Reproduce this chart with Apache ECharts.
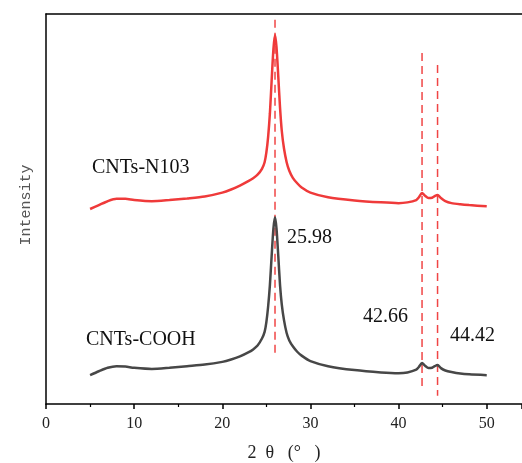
<!DOCTYPE html>
<html>
<head>
<meta charset="utf-8">
<script src="https://cdn.jsdelivr.net/npm/echarts@6/dist/echarts.min.js"></script>
<style>
  html, body { margin: 0; padding: 0; background: #fff; }
  #chart { width: 522px; height: 463px; }
</style>
</head>
<body>
<div id="chart"></div>
<script>
// 2θ 取样点
var twoTheta = [5, 6, 7, 8, 9, 10, 12, 14, 16, 18, 20, 21, 22, 23, 23.5, 24, 24.5, 24.8, 25.0, 25.2, 25.4,
  25.6, 25.8, 25.98, 26.15, 26.35, 26.55, 26.75, 27.0, 27.3, 27.6, 28, 28.5, 29, 30, 32, 35, 38, 40, 41, 42,
  42.3, 42.66, 43.0, 43.4, 43.8, 44.1, 44.42, 44.8, 45.3, 46, 47, 48, 50]
// CNTs-N103 (上面红线，已整体上移)
var n103 = [50.0, 51.0, 52.0, 52.6, 52.6, 52.3, 52.0, 52.3, 52.7, 53.2, 54.2, 55.0, 56.0, 57.2, 57.9, 58.8, 60.3, 62.0, 64.5, 68.5, 74.5,
  83.0, 91.0, 94.6, 91.5, 84.0, 76.0, 70.0, 65.5, 62.0, 59.8, 58.0, 56.6, 55.5, 54.2, 53.0, 52.2, 51.7, 51.5, 51.7, 52.3,
  53.0, 54.1, 53.4, 52.8, 52.9, 53.3, 53.6, 52.8, 52.0, 51.5, 51.2, 51.0, 50.7]
// CNTs-COOH (下面灰线)
var cooh = [7.4, 8.4, 9.3, 9.7, 9.6, 9.3, 9.0, 9.3, 9.7, 10.1, 10.8, 11.4, 12.2, 13.3, 14.0, 15.0, 16.8, 18.5, 21.0, 25.0, 30.5,
  38.0, 45.0, 47.9, 45.0, 38.0, 30.5, 25.5, 21.5, 18.2, 16.3, 14.8, 13.4, 12.4, 11.0, 9.7, 8.7, 8.1, 7.9, 8.1, 8.8,
  9.5, 10.5, 9.8, 9.2, 9.3, 9.7, 10.0, 9.2, 8.6, 8.2, 7.8, 7.6, 7.4]
// 虚线标注的峰位
var peakPos = [25.98, 42.66, 44.42]
var dashTop = [98.5, 90.0, 86.9]
var dashBottom = [12.6, 4.6, 2.1]
var xTicks = [0, 10, 20, 30, 40, 50]

function pairs(xs, ys) {
  return xs.map(function (x, i) { return [x, ys[i]] })
}

var chart = echarts.init(document.getElementById('chart'))

var dashSeries = peakPos.map(function (p, i) {
  return {
    type: 'line',
    data: [[p, dashTop[i]], [p, dashBottom[i]]],
    symbol: 'none',
    silent: true,
    z: 1,
    lineStyle: { color: '#f04545', width: 1.5, type: [8, 5] }
  }
})

var serif = '"Liberation Serif", "Times New Roman", serif'

chart.setOption({
  animation: false,
  backgroundColor: '#fff',
  grid: { left: 46, right: 0, top: 14, bottom: 59, containLabel: false, outerBoundsMode: 'none' },
  xAxis: [{
    type: 'value',
    min: 0,
    max: 54,
    interval: 10,
    name: '2  θ   (°   )',
    nameLocation: 'middle',
    nameGap: 40,
    nameTextStyle: { fontFamily: serif, fontSize: 18, color: '#222' },
    axisLine: { lineStyle: { color: '#000', width: 1.5 } },
    axisTick: { show: true, length: 5, lineStyle: { color: '#000', width: 1.5 } },
    minorTick: { show: true, splitNumber: 2, length: 3, lineStyle: { color: '#000', width: 1.2 } },
    splitLine: { show: false },
    axisLabel: {
      fontFamily: serif, fontSize: 16, color: '#222', margin: 12,
      formatter: function (v) { return xTicks.indexOf(v) >= 0 ? String(v) : '' }
    }
  }, {
    type: 'value',
    position: 'top',
    min: 0,
    max: 54,
    axisLine: { show: true, lineStyle: { color: '#000', width: 1.5 } },
    axisTick: { show: false },
    axisLabel: { show: false },
    splitLine: { show: false }
  }],
  yAxis: {
    type: 'value',
    min: 0,
    max: 100,
    name: 'Intensity',
    nameLocation: 'middle',
    nameGap: 12,
    nameTextStyle: { fontFamily: '"Liberation Mono", monospace', fontSize: 15, color: '#555', padding: [0, 0, 0, 8] },
    axisLine: { show: true, lineStyle: { color: '#000', width: 1.5 } },
    axisTick: { show: false },
    axisLabel: { show: false },
    splitLine: { show: false }
  },
  series: dashSeries.concat([{
    name: 'CNTs-N103',
    type: 'line',
    data: pairs(twoTheta, n103),
    symbol: 'none',
    smooth: 0.25,
    z: 3,
    lineStyle: { color: '#ef3a3a', width: 2.5 }
  }, {
    name: 'CNTs-COOH',
    type: 'line',
    data: pairs(twoTheta, cooh),
    symbol: 'none',
    smooth: 0.25,
    z: 3,
    lineStyle: { color: '#474747', width: 2.5 }
  }]),
  graphic: [
    { type: 'text', x: 92, y: 168, style: { text: 'CNTs-N103', font: '20px ' + serif, fill: '#111', verticalAlign: 'middle' } },
    { type: 'text', x: 86, y: 340, style: { text: 'CNTs-COOH', font: '20px ' + serif, fill: '#111', verticalAlign: 'middle' } },
    { type: 'text', x: 287, y: 238, style: { text: '25.98', font: '20px ' + serif, fill: '#111', verticalAlign: 'middle' } },
    { type: 'text', x: 363, y: 317, style: { text: '42.66', font: '20px ' + serif, fill: '#111', verticalAlign: 'middle' } },
    { type: 'text', x: 450, y: 336, style: { text: '44.42', font: '20px ' + serif, fill: '#111', verticalAlign: 'middle' } }
  ]
})
</script>
</body>
</html>
